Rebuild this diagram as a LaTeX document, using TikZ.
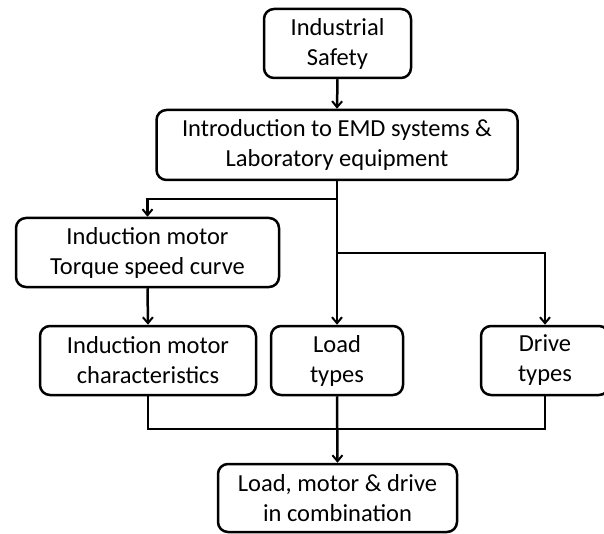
\documentclass[tikz,border=0pt]{standalone}
\usepackage{fontspec}
\setmainfont{Carlito}
\usetikzlibrary{arrows.meta}
\begin{document}
\begin{tikzpicture}[x=1pt,y=-1pt,
  box/.style={draw, line width=2.5pt, rounded corners=10pt, align=center, inner sep=0pt,
    font=\fontsize{24.5}{30}\selectfont},
  conn/.style={line width=2.5pt},
  arr/.style={conn, -{Straight Barb[length=6pt,width=10pt,line width=2pt]}}]
\useasboundingbox (0,0) rectangle (604,534);
\node[box, minimum width=147pt, minimum height=69pt] (safety) at (337.5,43.5) {Industrial\\Safety};
\node[box, minimum width=361pt, minimum height=70pt] (intro) at (337,145) {Introduction to EMD systems \&\\Laboratory equipment};
\node[box, minimum width=263pt, minimum height=69pt] (torque) at (147.5,252.5) {Induction motor\\Torque speed curve};
\node[box, minimum width=216pt, minimum height=69pt] (imchar) at (148,360.5) {Induction motor\\characteristics};
\node[box, minimum width=132pt, minimum height=69pt] (load) at (337,360.5) {Load\\types};
\node[box, minimum width=128pt, minimum height=69pt] (drive) at (545,360.5) {Drive\\types};
\node[box, minimum width=239pt, minimum height=68pt] (final) at (337.5,498) {Load, motor \& drive\\in combination};
\coordinate (b1) at (337,199);
\coordinate (b2) at (337,253);
\coordinate (m) at (337,429);
\draw[arr] (safety.south) -- (intro.north);
\draw[arr] (intro.south) -- (load.north);
\draw[arr] (b1) -| (torque.north);
\draw[arr] (b2) -| (drive.north);
\draw[arr] (torque.south) -- (imchar.north);
\draw[conn] (imchar.south) |- (m) -| (drive.south);
\draw[arr] (load.south) -- (final.north);
\end{tikzpicture}
\end{document}
